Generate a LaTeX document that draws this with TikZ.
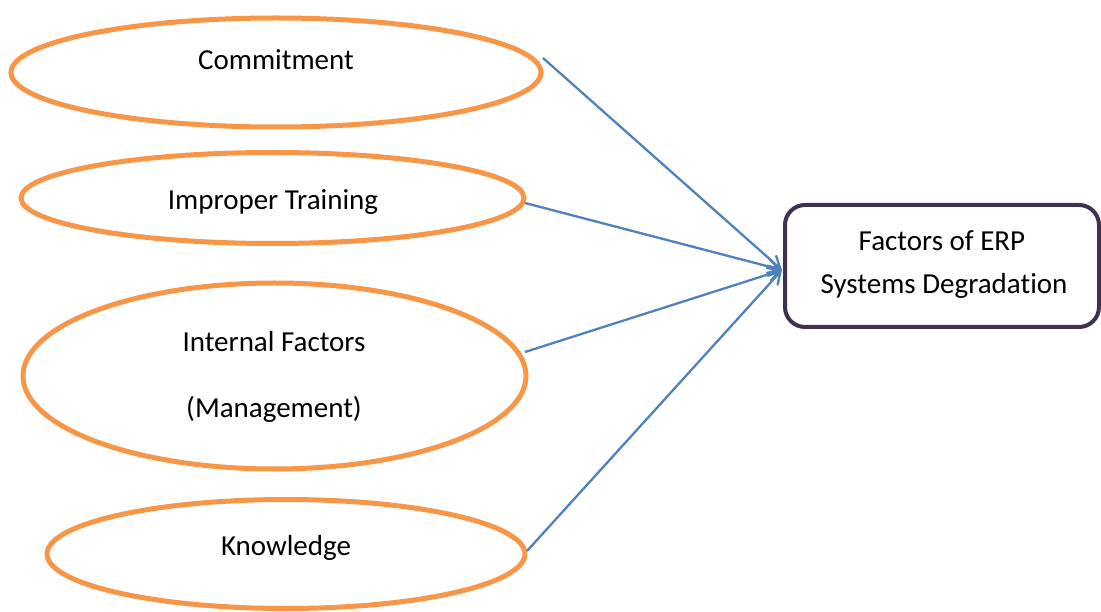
\documentclass[tikz,border=0pt]{standalone}
\usepackage{fontspec}
\setmainfont{Carlito}[RawFeature={-liga;-clig;-calt;-dlig}]
\usetikzlibrary{shapes.geometric,arrows.meta,calc}

\definecolor{factorOrange}{HTML}{F79646}
\definecolor{linkBlue}{HTML}{4F81BD}
\definecolor{boxPurple}{HTML}{3F3151}

\begin{document}
\begin{tikzpicture}[x=1pt,y=-1pt,
  factor/.style={ellipse,draw=factorOrange,line width=5pt,fill=white,
                 inner sep=0pt,outer sep=0pt},
  caption/.style={anchor=base,inner sep=0pt,font=\fontsize{29}{34}\selectfont},
  outcome/.style={rectangle,rounded corners=20pt,draw=boxPurple,line width=4pt,
                  fill=white,inner sep=0pt,outer sep=0pt,
                  minimum width=314pt,minimum height=122pt},
  link/.style={draw=linkBlue,line width=2.3pt,
               -{Straight Barb[length=12pt,width=14pt,line width=2.3pt]}}]
  \useasboundingbox (0,0) rectangle (1101,612);

  % factor ellipses
  \node[factor,minimum width=530pt,minimum height=109pt] (commit)   at (276,72.5) {};
  \node[factor,minimum width=503pt,minimum height=91pt]  (training) at (272.5,198) {};
  \node[factor,minimum width=503pt,minimum height=186pt] (internal) at (274.5,376) {};
  \node[factor,minimum width=478pt,minimum height=109pt] (know)     at (286,554) {};

  % captions
  \node[caption] (tcommit)    at (276,69.5)  {Commitment};
  \node[caption] (ttraining)  at (273,209.5) {Improper Training};
  \node[caption] (tinternal)  at (274,351.5) {Internal Factors};
  \node[caption] (tmanage)    at (274,417.5) {(Management)};
  \node[caption] (tknow)      at (286,555.5) {Knowledge};

  % outcome box
  \node[outcome] (result) at (942,266) {};
  \node[caption] (tresult1) at (942,250.5) {Factors of ERP};
  \node[caption] (tresult2) at (944,293.5) {Systems Degradat\kern0pt ion};

  % connector ends
  \coordinate (s1) at ($(commit.east)+(2,-14.5)$);
  \coordinate (s2) at ($(training.east)+(1,5)$);
  \coordinate (s3) at ($(internal.east)+(-1,-24)$);
  \coordinate (s4) at ($(know.east)+(2,-3)$);
  \coordinate (hit) at ($(result.west)+(-3,4)$);

  \draw[link] (s1) -- (hit);
  \draw[link] (s2) -- (hit);
  \draw[link] (s3) -- (hit);
  \draw[link] (s4) -- (hit);
\end{tikzpicture}
\end{document}
